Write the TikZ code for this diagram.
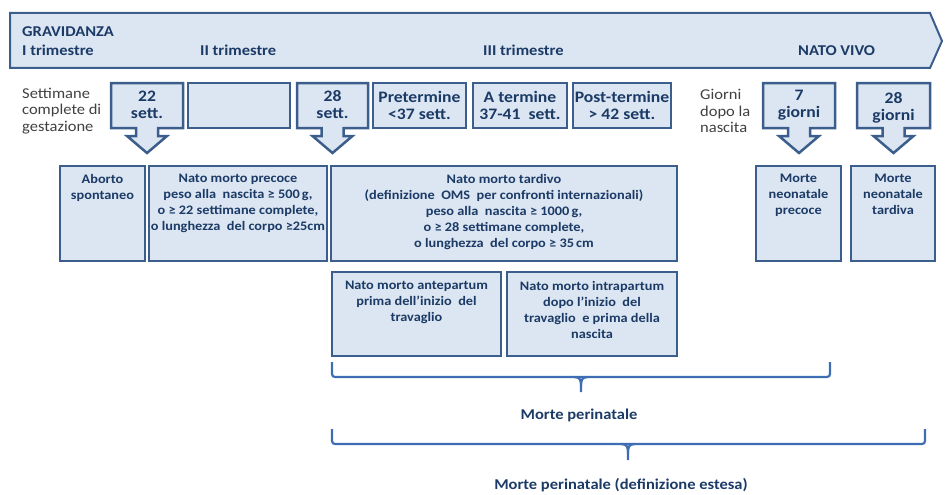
\documentclass[tikz,border=0pt]{standalone}
\usepackage{fontspec}
\setmainfont{Carlito}[FakeStretch=1.1]
\definecolor{fillc}{HTML}{DCE6F2}
\definecolor{bordc}{HTML}{3B5E8C}
\definecolor{txtc}{HTML}{1B3A66}
\definecolor{grayc}{HTML}{404040}
\definecolor{bracec}{HTML}{3F6DB4}
\newcommand\arrowbox[3]{\draw[boxline] (#1,83) -- (#2,83) -- (#2,128) -- ({#3+11},128) -- ({#3+11},136) -- ({#3+20},136) -- (#3,153) -- ({#3-20},136) -- ({#3-11},136) -- ({#3-11},128) -- (#1,128) -- cycle;}
\begin{document}
\begin{tikzpicture}[x=1pt,y=-1pt,
 boxline/.style={draw=bordc, fill=fillc, line width=2.5pt},
 box/.style={boxline, rectangle, inner sep=0pt},
 lab/.style={text=txtc, font=\bfseries\fontsize{16}{17}\selectfont, align=center, inner sep=0pt},
 small/.style={text=txtc, font=\bfseries\fontsize{13}{16}\selectfont, align=center, inner sep=0pt, anchor=north},
 side/.style={text=grayc, font=\fontsize{15}{16.5}\selectfont, align=left, inner sep=0pt, anchor=west},
 ban/.style={text=txtc, font=\bfseries\fontsize{15}{15}\selectfont, inner sep=0pt, anchor=base west},
 bottomlab/.style={text=txtc, font=\bfseries\fontsize{15}{15}\selectfont, inner sep=0pt},
 brace/.style={draw=bracec, line width=2.2pt, rounded corners=3pt},
 tip/.style={draw=bracec, line width=2.2pt},
]
\useasboundingbox (0,0) rectangle (945,495);
% banner
\draw[draw=bordc, fill=fillc, line width=2pt] (10,13) -- (930,13) -- (942,41) -- (930,68) -- (10,68) -- cycle;
\node[ban] (grav) at (22,37) {GRAVIDANZA};
\node[ban] (tri1) at (22,56) {I trimestre};
\node[ban] (tri2) at (200,56) {II trimestre};
\node[ban] (tri3) at (483,56) {III trimestre};
\node[ban] (vivo) at (798,56) {NATO VIVO};
% row 2
\node[side] (sett) at (22,111) {Settimane\\complete di\\gestazione};
\node[side] (giorni) at (700,111) {Giorni\\dopo la\\nascita};
\arrowbox{111}{183}{147}
\node[lab] (s22) at (147,105) {22\\sett.};
\node[box, minimum width=102pt, minimum height=45pt] (empty) at (239,105.5) {};
\arrowbox{297}{368}{332.5}
\node[lab] (s28) at (332.5,105) {28\\sett.};
\node[box, lab, minimum width=93pt, minimum height=45pt] (pre) at (419.5,105.5) {Pretermine\\<37 sett.};
\node[box, lab, minimum width=94pt, minimum height=45pt] (ater) at (520,105.5) {A termine\\37-41~ sett.};
\node[box, lab, minimum width=98pt, minimum height=45pt] (post) at (622,105.5) {Post-termine\\> 42 sett.};
\arrowbox{763}{835}{799}
\node[lab] (g7) at (799,105) {7\\giorni};
\arrowbox{857}{930}{893.5}
\node[lab] (g28) at (893.5,108) {28\\giorni};
% row 3
\node[box, minimum width=85pt, minimum height=95pt] (abo) at (102.5,213.5) {};
\node[small] (abot) at ([yshift=-9pt]abo.north) {Aborto\\spontaneo};
\node[box, minimum width=178pt, minimum height=95pt] (prec) at (238,213.5) {};
\node[small] (prect) at ([yshift=-9pt]prec.north) {Nato morto precoce\\peso alla~ nascita ≥ 500\,g,\\o ≥ 22 settimane complete,\\o lunghezza~ del corpo ≥25cm};
\node[box, minimum width=346pt, minimum height=95pt] (tard) at (504,213.5) {};
\node[small] (tardt) at ([yshift=-9pt]tard.north) {Nato morto tardivo\\(definizione~ OMS~ per confronti internazionali)\\peso alla~ nascita ≥ 1000\,g,\\o ≥ 28 settimane complete,\\o lunghezza~ del corpo ≥ 35\,cm};
\node[box, minimum width=85pt, minimum height=95pt] (nprec) at (798.5,213.5) {};
\node[small] (nprect) at ([yshift=-9pt]nprec.north) {Morte\\neonatale\\precoce};
\node[box, minimum width=84pt, minimum height=95pt] (ntard) at (893,213.5) {};
\node[small] (ntardt) at ([yshift=-9pt]ntard.north) {Morte\\neonatale\\tardiva};
% row 4
\node[box, minimum width=169pt, minimum height=84pt] (ante) at (416.5,314) {};
\node[small] (antet) at ([yshift=-10pt]ante.north) {Nato morto antepartum\\prima dell’inizio~ del\\travaglio};
\node[box, minimum width=170pt, minimum height=84pt] (intra) at (592,314) {};
\node[small] (intrat) at ([yshift=-10pt]intra.north) {Nato morto intrapartum\\dopo l’inizio~ del\\travaglio~ e prima della\\nascita};
% braces
\coordinate (b1l) at (332,362);
\coordinate (b1r) at (830,362);
\coordinate (b1t) at (581,392);
\draw[brace] (b1l) -- (332,377) -- (830,377) -- (b1r);
\draw[tip] (574,377) .. controls (580,377) and (581,380) .. (581,386) -- (b1t);
\draw[tip] (588,377) .. controls (582,377) and (581,380) .. (581,386);
\node[bottomlab] (mp) at (579,415) {Morte perinatale};
\coordinate (b2l) at (332,429);
\coordinate (b2r) at (925,429);
\coordinate (b2t) at (628,460);
\draw[brace] (b2l) -- (332,444) -- (925,444) -- (b2r);
\draw[tip] (621,444) .. controls (627,444) and (628,447) .. (628,453) -- (b2t);
\draw[tip] (635,444) .. controls (629,444) and (628,447) .. (628,453);
\node[bottomlab] (mpe) at (621,485) {Morte perinatale (definizione estesa)};
\end{tikzpicture}
\end{document}
